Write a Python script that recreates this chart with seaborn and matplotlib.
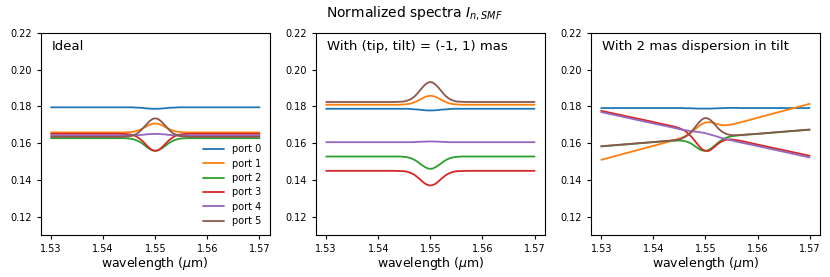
import numpy as np
import pandas as pd
import matplotlib
matplotlib.use("Agg")
import matplotlib.pyplot as plt
import seaborn as sns

# wavelength samples (um), denser around the 1.55 resonance
wavelength = [1.530, 1.540, 1.543, 1.544, 1.545, 1.5455, 1.546, 1.5465, 1.547, 1.5475,
              1.548, 1.5485, 1.549, 1.5495, 1.550, 1.5505, 1.551, 1.5515, 1.552, 1.5525,
              1.553, 1.5535, 1.554, 1.5545, 1.555, 1.556, 1.557, 1.560, 1.570]
ports = ["port 0", "port 1", "port 2", "port 3", "port 4", "port 5"]
titles = ["Ideal", "With (tip, tilt) = (-1, 1) mas", "With 2 mas dispersion in tilt"]

############ panel 1: ideal
ideal = {
    "port 0": [0.1795, 0.1795, 0.1795, 0.1795, 0.1795, 0.1795, 0.1794, 0.1793, 0.1793, 0.1792,
               0.1790, 0.1789, 0.1788, 0.1787, 0.1787, 0.1787, 0.1788, 0.1789, 0.1790, 0.1792,
               0.1793, 0.1793, 0.1794, 0.1795, 0.1795, 0.1795, 0.1795, 0.1795, 0.1795],
    "port 1": [0.1658, 0.1658, 0.1658, 0.1658, 0.1660, 0.1661, 0.1663, 0.1667, 0.1672, 0.1679,
               0.1686, 0.1694, 0.1701, 0.1705, 0.1707, 0.1705, 0.1701, 0.1694, 0.1686, 0.1679,
               0.1672, 0.1667, 0.1663, 0.1661, 0.1660, 0.1658, 0.1658, 0.1658, 0.1658],
    "port 2": [0.1627, 0.1627, 0.1627, 0.1627, 0.1625, 0.1623, 0.1619, 0.1614, 0.1607, 0.1598,
               0.1587, 0.1576, 0.1567, 0.1560, 0.1558, 0.1560, 0.1567, 0.1576, 0.1587, 0.1598,
               0.1607, 0.1614, 0.1619, 0.1623, 0.1625, 0.1627, 0.1627, 0.1627, 0.1627],
    "port 3": [0.1651, 0.1651, 0.1651, 0.1650, 0.1648, 0.1645, 0.1641, 0.1634, 0.1624, 0.1612,
               0.1598, 0.1583, 0.1570, 0.1561, 0.1558, 0.1561, 0.1570, 0.1583, 0.1598, 0.1612,
               0.1624, 0.1634, 0.1641, 0.1645, 0.1648, 0.1650, 0.1651, 0.1651, 0.1651],
    "port 4": [0.1642, 0.1642, 0.1642, 0.1642, 0.1642, 0.1642, 0.1643, 0.1643, 0.1644, 0.1645,
               0.1647, 0.1648, 0.1649, 0.1650, 0.1650, 0.1650, 0.1649, 0.1648, 0.1647, 0.1645,
               0.1644, 0.1643, 0.1643, 0.1642, 0.1642, 0.1642, 0.1642, 0.1642, 0.1642],
    "port 5": [0.1634, 0.1634, 0.1634, 0.1635, 0.1637, 0.1640, 0.1645, 0.1652, 0.1663, 0.1677,
               0.1692, 0.1708, 0.1722, 0.1732, 0.1735, 0.1732, 0.1722, 0.1708, 0.1692, 0.1677,
               0.1663, 0.1652, 0.1645, 0.1640, 0.1637, 0.1635, 0.1634, 0.1634, 0.1634],
}

############ panel 2: tip/tilt offset
tiptilt = {
    "port 0": [0.1787, 0.1787, 0.1787, 0.1787, 0.1787, 0.1787, 0.1786, 0.1785, 0.1784, 0.1783,
               0.1782, 0.1780, 0.1779, 0.1778, 0.1778, 0.1778, 0.1779, 0.1780, 0.1782, 0.1783,
               0.1784, 0.1785, 0.1786, 0.1787, 0.1787, 0.1787, 0.1787, 0.1787, 0.1787],
    "port 1": [0.1809, 0.1809, 0.1809, 0.1809, 0.1811, 0.1812, 0.1814, 0.1818, 0.1823, 0.1830,
               0.1837, 0.1845, 0.1852, 0.1856, 0.1858, 0.1856, 0.1852, 0.1845, 0.1837, 0.1830,
               0.1823, 0.1818, 0.1814, 0.1812, 0.1811, 0.1809, 0.1809, 0.1809, 0.1809],
    "port 2": [0.1527, 0.1527, 0.1527, 0.1527, 0.1525, 0.1523, 0.1520, 0.1515, 0.1508, 0.1499,
               0.1488, 0.1478, 0.1469, 0.1462, 0.1460, 0.1462, 0.1469, 0.1478, 0.1488, 0.1499,
               0.1508, 0.1515, 0.1520, 0.1523, 0.1525, 0.1527, 0.1527, 0.1527, 0.1527],
    "port 3": [0.1449, 0.1449, 0.1449, 0.1448, 0.1447, 0.1444, 0.1440, 0.1434, 0.1426, 0.1415,
               0.1403, 0.1390, 0.1379, 0.1372, 0.1369, 0.1372, 0.1379, 0.1390, 0.1403, 0.1415,
               0.1426, 0.1434, 0.1440, 0.1444, 0.1447, 0.1448, 0.1449, 0.1449, 0.1449],
    "port 4": [0.1605, 0.1605, 0.1605, 0.1605, 0.1605, 0.1605, 0.1605, 0.1605, 0.1606, 0.1607,
               0.1607, 0.1608, 0.1608, 0.1609, 0.1609, 0.1609, 0.1608, 0.1608, 0.1607, 0.1607,
               0.1606, 0.1605, 0.1605, 0.1605, 0.1605, 0.1605, 0.1605, 0.1605, 0.1605],
    "port 5": [0.1824, 0.1824, 0.1824, 0.1825, 0.1827, 0.1831, 0.1836, 0.1844, 0.1855, 0.1870,
               0.1887, 0.1904, 0.1919, 0.1929, 0.1933, 0.1929, 0.1919, 0.1904, 0.1887, 0.1870,
               0.1855, 0.1844, 0.1836, 0.1831, 0.1827, 0.1825, 0.1824, 0.1824, 0.1824],
}

############ panel 3: tilt dispersion
dispersion = {
    "port 0": [0.1791, 0.1791, 0.1791, 0.1791, 0.1791, 0.1791, 0.1790, 0.1790, 0.1790, 0.1789,
               0.1789, 0.1788, 0.1788, 0.1788, 0.1788, 0.1788, 0.1788, 0.1789, 0.1789, 0.1790,
               0.1790, 0.1791, 0.1791, 0.1792, 0.1792, 0.1792, 0.1791, 0.1791, 0.1791],
    "port 1": [0.1509, 0.1585, 0.1608, 0.1616, 0.1625, 0.1630, 0.1637, 0.1644, 0.1653, 0.1663,
               0.1675, 0.1687, 0.1698, 0.1706, 0.1712, 0.1714, 0.1713, 0.1710, 0.1706, 0.1702,
               0.1699, 0.1697, 0.1698, 0.1699, 0.1701, 0.1708, 0.1715, 0.1738, 0.1814],
    "port 2": [0.1582, 0.1605, 0.1612, 0.1613, 0.1614, 0.1613, 0.1611, 0.1607, 0.1601, 0.1593,
               0.1583, 0.1573, 0.1564, 0.1559, 0.1558, 0.1561, 0.1569, 0.1580, 0.1592, 0.1604,
               0.1614, 0.1623, 0.1629, 0.1634, 0.1637, 0.1641, 0.1644, 0.1650, 0.1673],
    "port 3": [0.1776, 0.1715, 0.1696, 0.1690, 0.1681, 0.1675, 0.1668, 0.1657, 0.1644, 0.1629,
               0.1611, 0.1593, 0.1576, 0.1564, 0.1558, 0.1557, 0.1563, 0.1574, 0.1586, 0.1598,
               0.1607, 0.1614, 0.1619, 0.1620, 0.1620, 0.1616, 0.1611, 0.1592, 0.1531],
    "port 4": [0.1769, 0.1707, 0.1689, 0.1683, 0.1676, 0.1673, 0.1671, 0.1669, 0.1666, 0.1664,
               0.1663, 0.1661, 0.1659, 0.1657, 0.1654, 0.1650, 0.1646, 0.1642, 0.1638, 0.1633,
               0.1629, 0.1625, 0.1622, 0.1618, 0.1615, 0.1608, 0.1602, 0.1584, 0.1522],
    "port 5": [0.1583, 0.1606, 0.1613, 0.1616, 0.1620, 0.1625, 0.1632, 0.1641, 0.1653, 0.1668,
               0.1686, 0.1704, 0.1720, 0.1732, 0.1737, 0.1734, 0.1725, 0.1711, 0.1695, 0.1679,
               0.1666, 0.1657, 0.1650, 0.1646, 0.1643, 0.1643, 0.1645, 0.1651, 0.1674],
}


def to_long(d):
    frames = []
    for p in ports:
        frames.append(pd.DataFrame({"wavelength": wavelength, "I": d[p], "port": p}))
    return pd.concat(frames, ignore_index=True)


sns.set_style("ticks")
plt.rcParams["font.family"] = ["DejaVu Sans"]
plt.rcParams.update({"text.color": "black", "axes.labelcolor": "black",
                     "xtick.color": "black", "ytick.color": "black",
                     "axes.edgecolor": "black"})

fig, axes = plt.subplots(1, 3, figsize=(8.3, 2.77), dpi=100)
fig.subplots_adjust(left=0.049, right=0.988, top=0.881, bottom=0.152, wspace=0.2)

for i, (ax, data) in enumerate(zip(axes, [ideal, tiptilt, dispersion])):
    sns.lineplot(data=to_long(data), x="wavelength", y="I", hue="port",
                 palette="tab10", linewidth=1.3, ax=ax, legend=(i == 0))
    ax.set_ylim(0.11, 0.22)
    ax.set_xticks([1.53, 1.54, 1.55, 1.56, 1.57])
    ax.set_yticks([0.12, 0.14, 0.16, 0.18, 0.20, 0.22])
    ax.tick_params(labelsize=7, length=3, width=0.8)
    ax.set_xlabel(r"wavelength ($\mu$m)", fontsize=9, labelpad=1)
    ax.set_ylabel("")
    for s in ax.spines.values():
        s.set_visible(True)
        s.set_linewidth(0.8)
    ax.text(0.05, 0.965, titles[i], transform=ax.transAxes, fontsize=9.5,
            ha="left", va="top")

leg = axes[0].legend(loc="lower right", frameon=False, fontsize=7,
                     handlelength=2.2, labelspacing=0.45)

fig.suptitle(r"Normalized spectra $I_{n,SMF}$", fontsize=10, y=0.985)

fig.savefig("out.png", dpi=100)
